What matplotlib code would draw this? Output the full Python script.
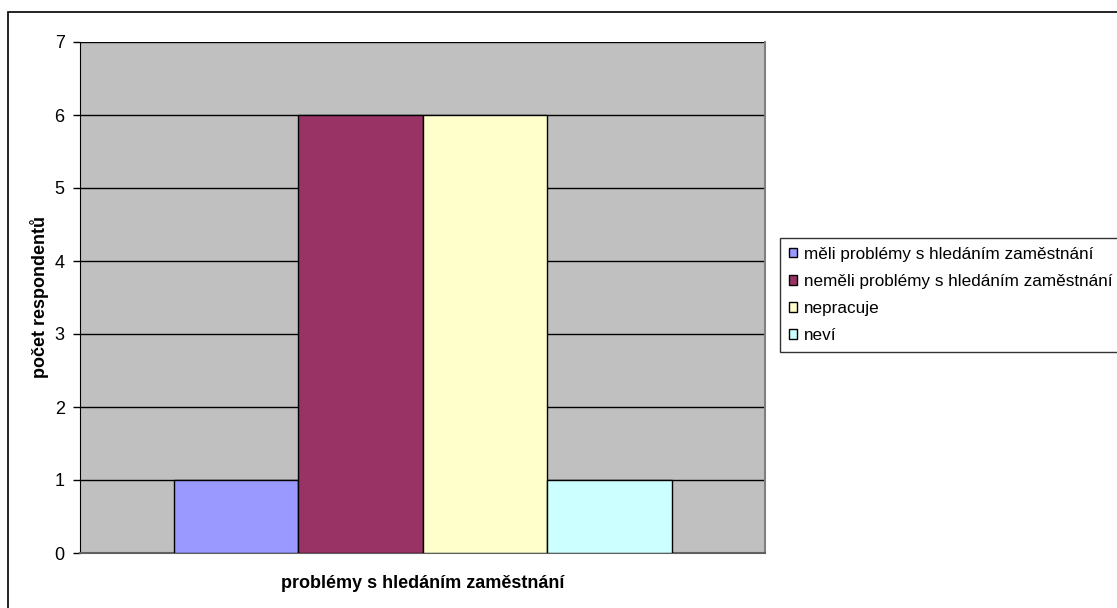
import matplotlib
matplotlib.use("Agg")
from matplotlib import pyplot as plt
from matplotlib.patches import Rectangle

plt.rcParams['font.family'] = ['Liberation Sans', 'DejaVu Sans']

# data
series = ["měli problémy s hledáním zaměstnání",
          "neměli problémy s hledáním zaměstnání",
          "nepracuje",
          "neví"]
values = [1, 6, 6, 1]
colors = ["#9999FF", "#993366", "#FFFFCC", "#CCFFFF"]
yticks = [0, 1, 2, 3, 4, 5, 6, 7]

W, H = 1117, 608
fig = plt.figure(figsize=(W / 100, H / 100), dpi=100)

# outer chart border (runs off the right and bottom edges)
fig.patches.append(Rectangle((8 / W, -0.1), 1.2, 1 - 12 / H + 0.1,
                             transform=fig.transFigure, fill=False,
                             edgecolor="black", linewidth=1.2))

ax = fig.add_axes([80 / W, 1 - 553 / H, 685 / W, 511 / H])
ax.set_facecolor("#C0C0C0")

w = 124.5 / 685
for i, (lab, v, c) in enumerate(zip(series, values, colors)):
    ax.bar((i - 1.5) * w, v, width=w, color=c, edgecolor="black",
           linewidth=1, label=lab, zorder=3)

ax.set_xlim(-0.5, 0.5)
ax.set_ylim(0, 7)
ax.set_yticks(yticks)
ax.set_xticks([])
ax.yaxis.grid(True, color="black", linewidth=1, zorder=1)
ax.set_axisbelow(True)
ax.tick_params(axis="y", direction="out", length=5, width=1,
               labelsize=13, pad=6)

ax.spines["top"].set_visible(False)
ax.spines["left"].set_color("black")
ax.spines["right"].set_color("#808080")
ax.spines["right"].set_linewidth(1.5)
ax.spines["bottom"].set_color("#606060")
ax.spines["bottom"].set_linewidth(1.5)

ax.set_ylabel("počet respondentů", fontsize=13, fontweight="bold",
              labelpad=4)
ax.set_xlabel("problémy s hledáním zaměstnání", fontsize=13,
              fontweight="bold", labelpad=16)

leg = fig.legend(loc="upper left", bbox_to_anchor=(780 / W, 1 - 238 / H),
                 fontsize=12.3, frameon=True, fancybox=False,
                 edgecolor="black", handlelength=0.52, handleheight=0.52,
                 handletextpad=0.4, labelspacing=0.72, borderpad=0.5,
                 borderaxespad=0)
leg.get_frame().set_linewidth(1)

fig.savefig("out.png", dpi=100)
